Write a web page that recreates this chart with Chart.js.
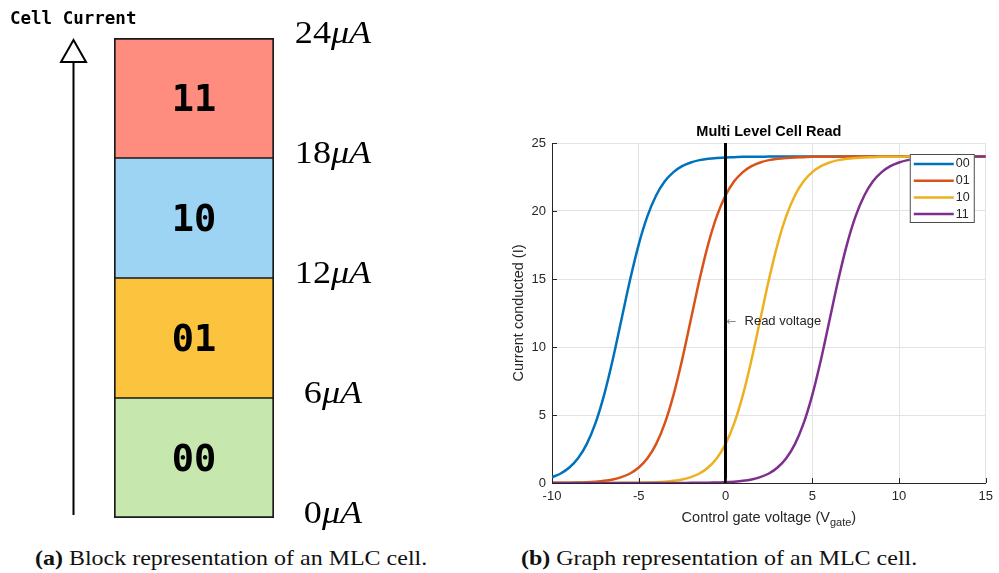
<!DOCTYPE html>
<html>
<head>
<meta charset="utf-8">
<script src="https://cdn.jsdelivr.net/npm/chart.js@4.4.1/dist/chart.umd.min.js"></script>
<style>
  html, body { margin: 0; padding: 0; background: #fff; }
  body { width: 999px; height: 573px; position: relative; overflow: hidden; }
  #blocks { position: absolute; left: 0; top: 0; }
  #curves { position: absolute; left: 500px; top: 100px; }
  .cap { position: absolute; top: 547px; line-height: 1; white-space: nowrap; transform-origin: 0 0;
         transform: scaleX(1.09);
         font-family: 'Liberation Serif', 'Times New Roman', serif; font-size: 22px; color: #111; }
</style>
</head>
<body>
<canvas id="blocks" width="500" height="540"></canvas>
<canvas id="curves" width="499" height="440"></canvas>
<div class="cap" style="left:35px"><b>(a)</b> Block representation of an MLC cell.</div>
<div class="cap" style="left:521px"><b>(b)</b> Graph representation of an MLC cell.</div>
<script>
// ---- left panel: current window of each state (uA) ----
var levels = ['00', '01', '10', '11'];
var levelSpan = [6, 6, 6, 6];
var levelColors = ['#c6e7ad', '#fcc43e', '#9dd3f3', '#ff8d7f'];
var currentTicks = [0, 6, 12, 18, 24];

// ---- right panel: current vs gate voltage ----
var gateVolts = [-10, -9.5, -9, -8.5, -8, -7.5, -7, -6.5, -6, -5.5, -5, -4.5, -4, -3.5, -3, -2.5, -2,
  -1.5, -1, -0.5, 0, 0.5, 1, 1.5, 2, 2.5, 3, 3.5, 4, 4.5, 5, 5.5, 6, 6.5, 7, 7.5, 8, 8.5, 9, 9.5,
  10, 10.5, 11, 11.5, 12, 12.5, 13, 13.5, 14, 14.5, 15];

var cur00 = [0.43, 0.70, 1.14, 1.82, 2.86, 4.38, 6.46, 9.06, 12.0, 14.94, 17.55, 19.62, 21.14,
  22.18, 22.86, 23.30, 23.57, 23.74, 23.84, 23.90, 23.94, 23.96, 23.98, 23.99, 23.99,
  24, 24, 24, 24, 24, 24, 24, 24, 24, 24, 24, 24, 24,
  24, 24, 24, 24, 24, 24, 24, 24, 24, 24, 24, 24, 24];

var cur01 = [0.01, 0.01, 0.02, 0.04, 0.06, 0.10, 0.16, 0.26, 0.43, 0.70, 1.14, 1.82, 2.86, 4.38,
  6.46, 9.06, 12.0, 14.94, 17.55, 19.62, 21.14, 22.18, 22.86, 23.30, 23.57, 23.74, 23.84, 23.90,
  23.94, 23.96, 23.98, 23.99, 23.99,
  24, 24, 24, 24, 24, 24, 24, 24, 24, 24, 24, 24, 24, 24, 24, 24, 24, 24];

var cur10 = [0, 0, 0, 0, 0, 0, 0, 0,
  0.01, 0.01, 0.02, 0.04, 0.06, 0.10, 0.16, 0.26, 0.43, 0.70, 1.14, 1.82, 2.86, 4.38,
  6.46, 9.06, 12.0, 14.94, 17.55, 19.62, 21.14, 22.18, 22.86, 23.30, 23.57, 23.74, 23.84, 23.90,
  23.94, 23.96, 23.98, 23.99, 23.99,
  24, 24, 24, 24, 24, 24, 24, 24, 24, 24];

var cur11 = [0, 0, 0, 0, 0, 0, 0, 0, 0, 0, 0, 0, 0, 0, 0, 0,
  0.01, 0.01, 0.02, 0.04, 0.06, 0.10, 0.16, 0.26, 0.43, 0.70, 1.14, 1.82, 2.86, 4.38,
  6.46, 9.06, 12.0, 14.94, 17.55, 19.62, 21.14, 22.18, 22.86, 23.30, 23.57, 23.74, 23.84, 23.90,
  23.94, 23.96, 23.98, 23.99, 23.99,
  24, 24];

var seriesNames = ['00', '01', '10', '11'];
var seriesValues = [cur00, cur01, cur10, cur11];
var seriesColors = ['#0072bd', '#d95319', '#edb120', '#7e2f8e'];
var readVoltage = 0;
var readLabelLevel = 11.85;

var INK = '#262626';
var SANS = "'Liberation Sans', Arial, sans-serif";

// draws the arrow, state names and current labels of the block diagram
var blockDecor = {
  id: 'blockDecor',
  afterDraw: function (chart) {
    var ctx = chart.ctx;
    var area = chart.chartArea;
    var yScale = chart.scales.y;
    ctx.save();

    // axis arrow
    ctx.strokeStyle = '#000';
    ctx.lineWidth = 2;
    ctx.beginPath();
    ctx.moveTo(73.5, 62);
    ctx.lineTo(73.5, area.bottom - 3);
    ctx.stroke();
    ctx.beginPath();
    ctx.moveTo(73.5, 40);
    ctx.lineTo(86, 62);
    ctx.lineTo(61, 62);
    ctx.closePath();
    ctx.fillStyle = '#fff';
    ctx.fill();
    ctx.stroke();

    ctx.fillStyle = '#000';
    ctx.font = "bold 17.5px 'DejaVu Sans Mono', monospace";
    ctx.textAlign = 'left';
    ctx.textBaseline = 'alphabetic';
    ctx.fillText('Cell Current', 10, 24);

    // state names in the blocks
    ctx.font = "bold 37px 'DejaVu Sans Mono', monospace";
    ctx.textAlign = 'center';
    chart.data.datasets.forEach(function (ds, i) {
      var bar = chart.getDatasetMeta(i).data[0];
      ctx.fillText(ds.label, bar.x, (bar.y + bar.base) / 2 + 12.5);
    });

    // current labels, number upright and unit italic (slightly widened like the source)
    var cx = 333, stretch = 1.13;
    currentTicks.forEach(function (v) {
      var py = yScale.getPixelForValue(v) + 5;
      var num = String(v);
      ctx.font = "32px 'Liberation Serif', serif";
      var w1 = ctx.measureText(num).width;
      ctx.font = "italic 32px 'Liberation Serif', serif";
      var w2 = ctx.measureText('\u03bcA').width;
      ctx.save();
      ctx.translate(cx, py);
      ctx.scale(stretch, 1);
      var x0 = -(w1 + w2) / 2;
      ctx.textAlign = 'left';
      ctx.font = "32px 'Liberation Serif', serif";
      ctx.fillText(num, x0, 0);
      ctx.font = "italic 32px 'Liberation Serif', serif";
      ctx.fillText('\u03bcA', x0 + w1, 0);
      ctx.restore();
    });
    ctx.restore();
  }
};

var blockSets = levels.map(function (name, i) {
  var last = levels.length - 1;
  return {
    label: name,
    data: [levelSpan[i]],
    backgroundColor: levelColors[i],
    borderColor: '#1a1a1a',
    borderWidth: { left: 2, right: 2, top: i === last ? 2 : 1, bottom: i === 0 ? 2 : 1 },
    borderSkipped: false,
    barPercentage: 1,
    categoryPercentage: 1
  };
});

new Chart(document.getElementById('blocks'), {
  type: 'bar',
  data: { labels: ['cell'], datasets: blockSets },
  options: {
    responsive: false,
    animation: false,
    devicePixelRatio: 1,
    layout: { padding: { left: 114, right: 226, top: 38, bottom: 22 } },
    plugins: { legend: { display: false }, tooltip: { enabled: false } },
    scales: {
      x: { display: false, stacked: true },
      y: { display: false, stacked: true, min: 0, max: 24 }
    }
  },
  plugins: [blockDecor]
});

// title, axis titles, inward ticks, annotation and legend of the curve plot
var curveDecor = {
  id: 'curveDecor',
  afterDraw: function (chart) {
    var ctx = chart.ctx;
    var area = chart.chartArea;
    var xs = chart.scales.x, ys = chart.scales.y;
    ctx.save();

    // inward tick marks
    ctx.strokeStyle = INK;
    ctx.lineWidth = 1;
    ctx.beginPath();
    xs.ticks.forEach(function (t) {
      var px = Math.round(xs.getPixelForValue(t.value)) + 0.5;
      ctx.moveTo(px, area.bottom);
      ctx.lineTo(px, area.bottom - 5);
    });
    ys.ticks.forEach(function (t) {
      var py = Math.round(ys.getPixelForValue(t.value)) + 0.5;
      ctx.moveTo(area.left, py);
      ctx.lineTo(area.left + 5, py);
    });
    ctx.stroke();

    // title
    ctx.fillStyle = '#000';
    ctx.textAlign = 'center';
    ctx.textBaseline = 'middle';
    ctx.font = 'bold 14.5px ' + SANS;
    ctx.fillText('Multi Level Cell Read', (area.left + area.right) / 2, area.top - 11);

    // y title
    ctx.fillStyle = INK;
    ctx.font = '14.5px ' + SANS;
    ctx.save();
    ctx.translate(area.left - 33, (area.top + area.bottom) / 2);
    ctx.rotate(-Math.PI / 2);
    ctx.fillText('Current conducted (I)', 0, 0);
    ctx.restore();

    // x title with subscript
    var main = 'Control gate voltage (V', sub = 'gate', close = ')';
    ctx.font = '14.5px ' + SANS;
    var wm = ctx.measureText(main).width, wc = ctx.measureText(close).width;
    ctx.font = '11px ' + SANS;
    var ws = ctx.measureText(sub).width;
    var tx = (area.left + area.right) / 2 - (wm + ws + wc) / 2;
    var ty = area.bottom + 35;
    ctx.textAlign = 'left';
    ctx.font = '14.5px ' + SANS;
    ctx.fillText(main, tx, ty);
    ctx.font = '11px ' + SANS;
    ctx.fillText(sub, tx + wm, ty + 5);
    ctx.font = '14.5px ' + SANS;
    ctx.fillText(close, tx + wm + ws, ty);

    // read voltage annotation
    var ax = xs.getPixelForValue(readVoltage) + 1;
    var ay = ys.getPixelForValue(readLabelLevel);
    ctx.fillStyle = '#8a8a8a';
    ctx.font = "12px 'DejaVu Sans', sans-serif";
    ctx.fillText('\u2190', ax, ay);
    ctx.fillStyle = INK;
    ctx.font = '13px ' + SANS;
    ctx.fillText('Read voltage', ax + 18, ay);

    // legend
    var bx = area.right - 76, by = area.top + 11, bw = 65, bh = 69;
    ctx.fillStyle = '#fff';
    ctx.fillRect(bx, by, bw, bh);
    ctx.strokeStyle = '#4d4d4d';
    ctx.lineWidth = 1;
    ctx.strokeRect(bx + 0.5, by + 0.5, bw - 1, bh - 1);
    ctx.font = '12.5px ' + SANS;
    seriesNames.forEach(function (name, i) {
      var ry = by + 10 + i * 16.7;
      ctx.strokeStyle = seriesColors[i];
      ctx.lineWidth = 2.5;
      ctx.beginPath();
      ctx.moveTo(bx + 4, ry);
      ctx.lineTo(bx + 44, ry);
      ctx.stroke();
      ctx.fillStyle = INK;
      ctx.fillText(name, bx + 46, ry);
    });
    ctx.restore();
  }
};

var curveSets = seriesNames.map(function (name, i) {
  return {
    label: name,
    data: gateVolts.map(function (v, k) { return { x: v, y: seriesValues[i][k] }; }),
    borderColor: seriesColors[i],
    backgroundColor: seriesColors[i],
    borderWidth: 2.5,
    cubicInterpolationMode: 'monotone',
    order: seriesNames.length - i
  };
});
curveSets.push({
  label: 'read',
  data: [{ x: readVoltage, y: 0 }, { x: readVoltage, y: 25 }],
  borderColor: '#000',
  borderWidth: 3,
  order: 0
});

var tickFont = { family: "'Liberation Sans', Arial, sans-serif", size: 13 };

new Chart(document.getElementById('curves'), {
  type: 'line',
  data: { datasets: curveSets },
  options: {
    responsive: false,
    animation: false,
    devicePixelRatio: 1,
    layout: { padding: { left: 0, right: 12, top: 43, bottom: 0 } },
    elements: { point: { radius: 0 } },
    plugins: { legend: { display: false }, title: { display: false }, tooltip: { enabled: false } },
    scales: {
      x: {
        type: 'linear', min: -10, max: 15,
        ticks: { stepSize: 5, color: INK, font: tickFont, padding: 6 },
        grid: { color: '#e3e3e3', drawTicks: false },
        border: { color: INK },
        afterFit: function (s) { s.height = 57; }
      },
      y: {
        min: 0, max: 25,
        ticks: { stepSize: 5, color: INK, font: tickFont, padding: 6 },
        grid: { color: '#e3e3e3', drawTicks: false },
        border: { color: INK },
        afterFit: function (s) { s.width = 52; }
      }
    }
  },
  plugins: [curveDecor]
});
</script>
</body>
</html>
